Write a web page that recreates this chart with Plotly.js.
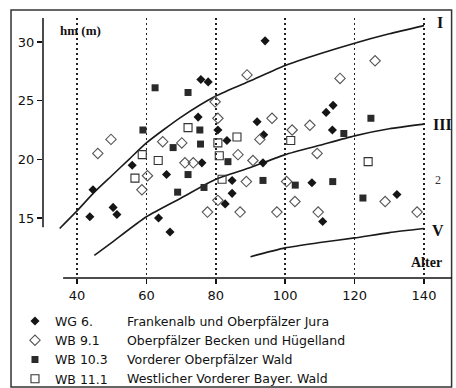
<!DOCTYPE html>
<html>
<head>
<meta charset="utf-8">
<script src="https://cdn.plot.ly/plotly-3.0.1.min.js"></script>
<style>
html,body{margin:0;padding:0;background:#fff;}
#chart{width:456px;height:388px;}
</style>
</head>
<body>
<div id="chart"></div>
<script>
// ---- data ----
const xTicks = [40, 60, 80, 100, 120, 140];
const yTicks = [15, 20, 25, 30];

const seriesCodes = ['WG 6.', 'WB 9.1', 'WB 10.3', 'WB 11.1'];
const seriesNames = ['Frankenalb und Oberpfälzer Jura', 'Oberpfälzer Becken und Hügelland', 'Vorderer Oberpfälzer Wald', 'Westlicher Vorderer Bayer. Wald'];

// WG 6. (filled diamonds)
const wg6X = [43.7, 44.6, 50.4, 51.5, 55.9, 63.5, 65.8, 66.8, 74.9, 75.7, 77.8, 76.0, 80.6, 83.2, 84.7, 84.7, 82.7, 91.9, 93.8, 94.2, 93.6, 107.7, 110.8, 113.8, 111.8, 113.6, 132.2];
const wg6Y = [15.1, 17.4, 15.9, 15.3, 19.5, 15.0, 18.7, 13.8, 23.6, 26.8, 26.6, 19.7, 22.5, 21.6, 18.2, 17.1, 16.2, 23.2, 22.1, 30.1, 19.7, 18.0, 14.7, 24.6, 24.0, 22.5, 17.0];

// WB 9.1 (open diamonds)
const wb91X = [46.0, 49.8, 58.7, 60.3, 64.7, 70.2, 71.1, 73.5, 77.6, 79.8, 80.6, 80.6, 86.4, 87.0, 88.8, 89.0, 90.7, 92.7, 96.2, 97.6, 102.0, 100.4, 102.8, 107.1, 109.2, 109.5, 115.8, 125.9, 128.8, 138.0];
const wb91Y = [20.5, 21.7, 17.4, 18.6, 21.5, 21.4, 19.7, 19.7, 15.5, 24.9, 23.5, 16.5, 20.4, 15.5, 18.1, 27.2, 19.9, 21.7, 23.5, 15.5, 22.5, 18.1, 16.4, 22.9, 20.5, 15.5, 26.9, 28.4, 16.4, 15.5];

// WB 10.3 (filled squares)
const wb103X = [59.0, 62.5, 72.0, 75.4, 75.6, 67.7, 72.0, 69.0, 76.6, 83.5, 93.6, 102.9, 113.7, 116.9, 124.7, 122.4];
const wb103Y = [22.5, 26.1, 25.7, 22.5, 21.3, 21.0, 18.7, 17.2, 17.6, 19.8, 18.2, 17.8, 18.1, 22.2, 23.5, 16.7];

// WB 11.1 (open squares)
const wb111X = [56.7, 58.8, 63.4, 72.0, 80.6, 81.0, 81.8, 86.1, 101.6, 123.9];
const wb111Y = [18.4, 20.4, 19.9, 22.7, 21.4, 20.3, 18.3, 21.9, 21.6, 19.8];

// reference curves (Ertragsklassen I, III, V)
const curveIX = [35, 40, 45, 50, 55, 60, 70, 80, 90, 100, 110, 120, 130, 140];
const curveIY = [14.1, 15.6, 17.2, 18.6, 20.0, 21.4, 23.6, 25.4, 26.7, 28.0, 29.0, 29.9, 30.7, 31.4];
const curveIIIX = [45, 50, 60, 70, 80, 90, 100, 110, 120, 130, 140];
const curveIIIY = [11.8, 12.9, 15.1, 16.7, 18.3, 19.3, 20.4, 21.2, 22.0, 22.6, 23.0];
const curveVX = [90, 100, 110, 120, 130, 140];
const curveVY = [11.7, 12.45, 12.9, 13.3, 13.75, 14.1];

const curveLabels = ['I', 'III', 'V'];

// ---- chart ----
const ink = '#111';
const tickFont = {family: 'DejaVu Sans, sans-serif', size: 13, color: ink};
const legFont = {family: 'DejaVu Sans, sans-serif', size: 12.5, color: ink};
const serifBold = {family: 'Liberation Serif, serif', size: 16, color: ink, weight: 'bold'};

const curveStyle = {color: '#1a1a1a', width: 1.6, shape: 'spline', smoothing: 0.6};

const traces = [
  {x: curveIX, y: curveIY, mode: 'lines', line: curveStyle, showlegend: false, hoverinfo: 'skip'},
  {x: curveIIIX, y: curveIIIY, mode: 'lines', line: curveStyle, showlegend: false, hoverinfo: 'skip'},
  {x: curveVX, y: curveVY, mode: 'lines', line: curveStyle, showlegend: false, hoverinfo: 'skip'},
  {x: wg6X, y: wg6Y, mode: 'markers', name: seriesCodes[0],
   marker: {symbol: 'diamond', size: 7, color: '#151515'}},
  {x: wb91X, y: wb91Y, mode: 'markers', name: seriesCodes[1],
   marker: {symbol: 'diamond-open', size: 8, color: '#555', line: {width: 1.1}}},
  {x: wb103X, y: wb103Y, mode: 'markers', name: seriesCodes[2],
   marker: {symbol: 'square', size: 7, color: '#2a2a2a'}},
  {x: wb111X, y: wb111Y, mode: 'markers', name: seriesCodes[3],
   marker: {symbol: 'square-open', size: 8, color: '#333', line: {width: 1.1}}}
];

const xEnd = 148.07;
const curveEndY = [curveIY[curveIY.length - 1], curveIIIY[curveIIIY.length - 1], curveVY[curveVY.length - 1]];

const annotations = [
  {xref: 'x', yref: 'y', x: 40.9, y: 31.0, text: 'hm (m)', showarrow: false,
   font: {family: 'Liberation Serif, serif', size: 13, color: ink, weight: 'bold'}},
  {xref: 'x', yref: 'y', x: 144.6, y: curveEndY[0] + 0.3, text: curveLabels[0], showarrow: false, font: serifBold},
  {xref: 'x', yref: 'y', x: 145.2, y: curveEndY[1], text: curveLabels[1], showarrow: false, font: serifBold},
  {xref: 'x', yref: 'y', x: 143.9, y: curveEndY[2] - 0.2, text: curveLabels[2], showarrow: false, font: serifBold},
  {xref: 'x', yref: 'y', x: 144.0, y: 18.2, text: '2', showarrow: false,
   font: {family: 'Liberation Serif, serif', size: 12, color: '#333'}},
  {xref: 'x', yref: 'y', x: 140.6, y: 11.16, text: 'Alter', showarrow: false,
   font: {family: 'Liberation Serif, serif', size: 14, color: ink, weight: 'bold'}}
];
const rowY = [-0.1654, -0.2394, -0.3135, -0.3875];
seriesNames.forEach((t, i) => {
  annotations.push({xref: 'paper', yref: 'paper', x: 0.2000, y: rowY[i], xanchor: 'left', yanchor: 'middle',
    text: t, showarrow: false, font: legFont});
});

const layout = {
  width: 456, height: 388,
  margin: {l: 43, r: 4, t: 18, b: 110, pad: 0, autoexpand: false},
  paper_bgcolor: '#fff', plot_bgcolor: '#fff',
  xaxis: {range: [30.2, xEnd], tickmode: 'array', tickvals: xTicks, ticktext: xTicks.map(String),
    ticks: 'outside', ticklen: 5, tickwidth: 1.5, tickcolor: ink,
    showline: false, zeroline: false, showgrid: true, gridcolor: '#222', griddash: '2px,3px', gridwidth: 1.5,
    tickfont: tickFont, fixedrange: true, automargin: false},
  yaxis: {range: [9.88, 32.05], tickmode: 'array', tickvals: yTicks, ticktext: yTicks.map(String),
    ticks: 'outside', ticklen: 5, tickwidth: 1.5, tickcolor: ink,
    showline: false, zeroline: false, showgrid: false, tickfont: tickFont, fixedrange: true, automargin: false},
  shapes: [
    {type: 'line', xref: 'paper', yref: 'y', x0: 0, x1: 0, y0: 14.2, y1: 32.05, line: {color: ink, width: 1.5}},
    {type: 'line', xref: 'x', yref: 'paper', x0: 36, x1: xEnd, y0: 0, y1: 0, line: {color: ink, width: 1.5}},
    {type: 'rect', xref: 'paper', yref: 'paper', x0: -0.0782, x1: 0.999, y0: -0.419, y1: 1.0308,
     line: {color: '#333', width: 1.5}, layer: 'below'}
  ],
  annotations: annotations,
  showlegend: true,
  legend: {x: -0.0685, xanchor: 'left', y: -0.109, yanchor: 'top', bgcolor: 'rgba(0,0,0,0)',
    font: legFont, orientation: 'v', traceorder: 'normal'},
  hovermode: false
};

Plotly.newPlot('chart', traces, layout, {staticPlot: true, displayModeBar: false});
</script>
</body>
</html>
